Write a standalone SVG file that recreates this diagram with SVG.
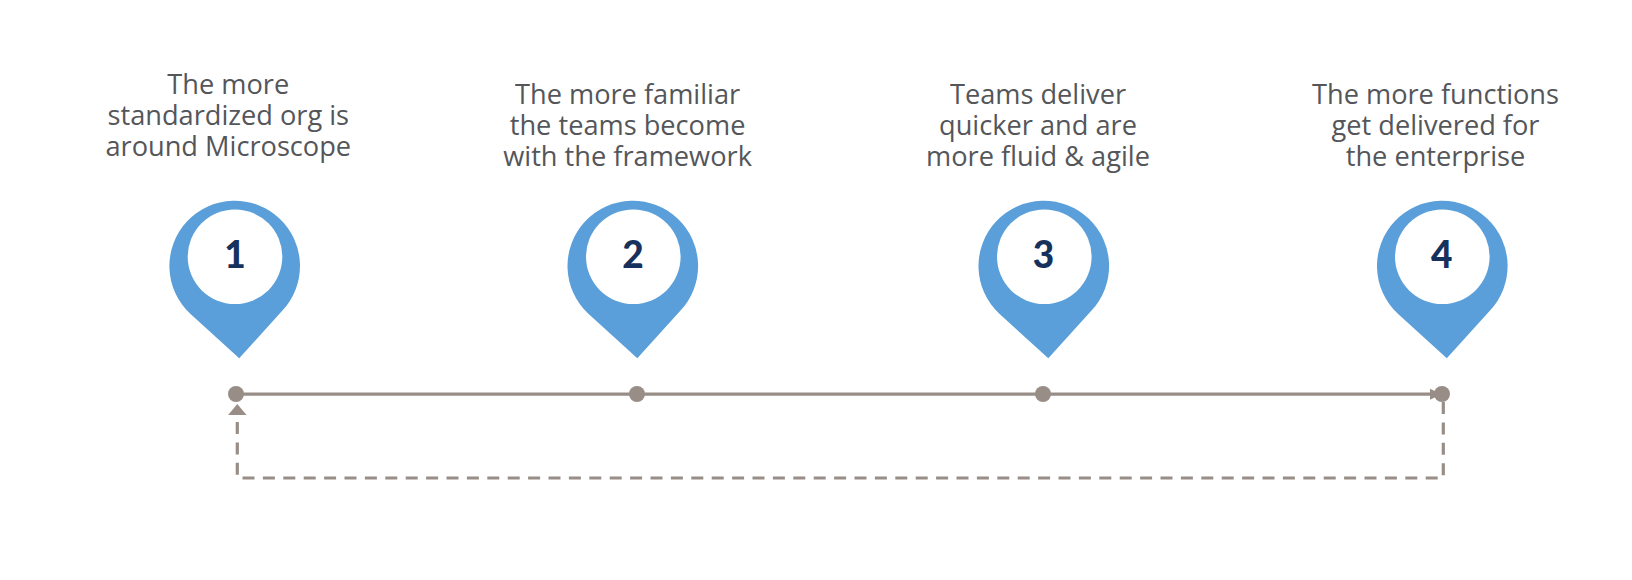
<svg xmlns="http://www.w3.org/2000/svg" width="1632" height="580" viewBox="0 0 1632 580">
<style>
.bg{fill:#ffffff}
.label{font-family:"Open Sans","Lato","Liberation Sans",sans-serif;font-size:27.2px;fill:#54565a;text-anchor:middle}
.num{font-family:"Lato","Open Sans","Liberation Sans",sans-serif;font-size:37px;font-weight:900;fill:#16325c;text-anchor:middle}
.pin{fill:#5a9fd9}
.hole{fill:#ffffff}
.dot{fill:#988e87}
.line{fill:none;stroke:#988e87;stroke-width:3.2}
.dash{stroke-dasharray:12 8.4}
.head{fill:#988e87}
</style>
<defs>
<path id="pinShape" d="M4.5 92.3 L-44.7 47.6 A65.3 65.3 0 1 1 47.5 44.8 Z"/>
<marker id="arrowUp" markerUnits="userSpaceOnUse" markerWidth="12" markerHeight="19" refX="0" refY="9.5" orient="auto" viewBox="0 0 12 19"><path class="head" d="M0 0.3 L11 9.5 L0 18.7 Z"/></marker>
<marker id="arrowRight" markerUnits="userSpaceOnUse" markerWidth="12" markerHeight="12" refX="0" refY="6" orient="auto" viewBox="0 0 12 12"><path class="head" d="M0 0.5 L11.5 6 L0 11.5 Z"/></marker>
</defs>
<rect class="bg" width="1632" height="580"/>
<g id="connectors">
<path id="timeline" class="line" d="M236 394.2 H1430" marker-end="url(#arrowRight)"/>
<path id="loop-back" class="line dash" d="M1443.3 402 V478 H237.3 V415" marker-end="url(#arrowUp)"/>
</g>
<g id="node-1">
<text class="label"><tspan x="228.3" y="93.5">The more</tspan><tspan x="228.3" y="124.5">standardized org is</tspan><tspan x="228.3" y="155.5">around Microscope</tspan></text>
<use class="pin" href="#pinShape" x="234.7" y="266"/>
<circle class="hole" cx="235" cy="256.7" r="47.3"/>
<text class="num" x="235" y="267.5">1</text>
<circle class="dot" cx="236" cy="394" r="8"/>
</g>
<g id="node-2">
<text class="label"><tspan x="627.6" y="103.5">The more familiar</tspan><tspan x="627.6" y="134.5">the teams become</tspan><tspan x="627.6" y="165.5">with the framework</tspan></text>
<use class="pin" href="#pinShape" x="632.8" y="266"/>
<circle class="hole" cx="633.3" cy="256.7" r="47.3"/>
<text class="num" x="633" y="267.5">2</text>
<circle class="dot" cx="637" cy="394" r="8"/>
</g>
<g id="node-3">
<text class="label"><tspan x="1038" y="103.5">Teams deliver</tspan><tspan x="1038" y="134.5">quicker and are</tspan><tspan x="1038" y="165.5">more fluid &amp; agile</tspan></text>
<use class="pin" href="#pinShape" x="1043.8" y="266"/>
<circle class="hole" cx="1044.3" cy="256.7" r="47.3"/>
<text class="num" x="1043.5" y="267.5">3</text>
<circle class="dot" cx="1043" cy="394" r="8"/>
</g>
<g id="node-4">
<text class="label"><tspan x="1435.5" y="103.5">The more functions</tspan><tspan x="1435.5" y="134.5">get delivered for</tspan><tspan x="1435.5" y="165.5">the enterprise</tspan></text>
<use class="pin" href="#pinShape" x="1442.3" y="266"/>
<circle class="hole" cx="1442.3" cy="256.7" r="47.3"/>
<text class="num" x="1441.7" y="267.5">4</text>
<circle class="dot" cx="1442" cy="394" r="8"/>
</g>
</svg>
